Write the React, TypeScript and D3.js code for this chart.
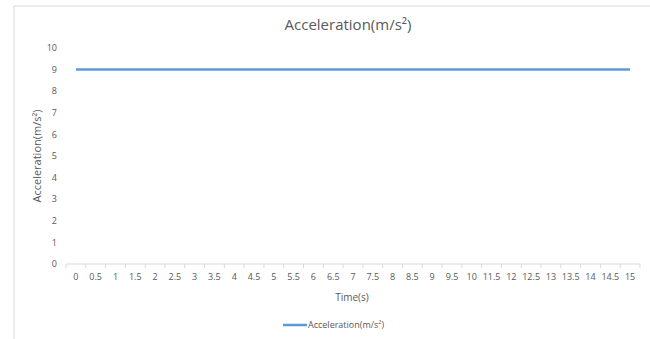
import React from "react";
import * as d3 from "d3";

const times: string[] = [
  "0", "0.5", "1", "1.5", "2", "2.5", "3", "3.5", "4", "4.5", "5", "5.5", "6", "6.5",
  "7", "7.5", "8", "8.5", "9", "9.5", "10", "11.5", "12", "12.5", "13", "13.5", "14", "14.5", "15",
];
const acceleration: number[] = times.map(() => 9);
const yTicks: number[] = [0, 1, 2, 3, 4, 5, 6, 7, 8, 9, 10];

const seriesName = "Acceleration(m/s²)";
const font = "'Open Sans', 'Noto Sans', sans-serif";
const textColor = "#595959";

export default function App() {
  const W = 650;
  const H = 339;
  const left = 66;
  const right = 640;
  const top = 48;
  const bottom = 264;

  const x = d3.scaleBand<string>().domain(times).range([left, right]);
  const y = d3.scaleLinear().domain([0, 10]).range([bottom, top]);

  const line = d3
    .line<number>()
    .x((_, i) => (x(times[i]) as number) + x.bandwidth() / 2)
    .y((d) => y(d));

  const boundaries = times.map((t) => x(t) as number).concat([right]);

  return (
    <svg
      width={W}
      height={H}
      style={{ position: "absolute", left: 0, top: 0, background: "#fff" }}
      fontFamily={font}
    >
      <rect x={14} y={6} width={W} height={H} fill="#fff" stroke="#d9d9d9" strokeWidth={1} />
      <text x={348} y={30} textAnchor="middle" fontSize={15} fill={textColor}>
        {seriesName}
      </text>
      {yTicks.map((t) => (
        <text key={t} x={57} y={y(t)} dy="0.35em" textAnchor="end" fontSize={9} fill={textColor}>
          {t}
        </text>
      ))}
      <text
        transform={`translate(37,${(top + bottom) / 2}) rotate(-90)`}
        textAnchor="middle"
        dy="0.35em"
        fontSize={11}
        fill={textColor}
      >
        {seriesName}
      </text>
      <line x1={left} x2={right} y1={bottom} y2={bottom} stroke="#d9d9d9" strokeWidth={1} />
      {boundaries.map((b, i) => (
        <line key={i} x1={b} x2={b} y1={bottom} y2={bottom + 4} stroke="#d9d9d9" strokeWidth={1} />
      ))}
      {times.map((t) => (
        <text
          key={t}
          x={(x(t) as number) + x.bandwidth() / 2}
          y={277}
          dy="0.35em"
          textAnchor="middle"
          fontSize={9}
          fill={textColor}
        >
          {t}
        </text>
      ))}
      <text x={352} y={297} dy="0.35em" textAnchor="middle" fontSize={10} fill={textColor}>
        Time(s)
      </text>
      <path d={line(acceleration) || ""} fill="none" stroke="#5b9bd5" strokeWidth={2.5} />
      <line x1={283} x2={307} y1={325} y2={325} stroke="#5b9bd5" strokeWidth={2.5} />
      <text x={308} y={325} dy="0.35em" fontSize={9} fill={textColor}>
        {seriesName}
      </text>
    </svg>
  );
}
